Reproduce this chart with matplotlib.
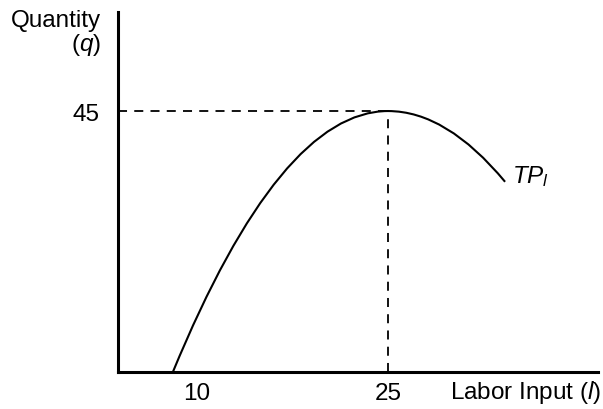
import matplotlib
matplotlib.use("Agg")
import matplotlib.pyplot as plt
from matplotlib.path import Path
from matplotlib.patches import PathPatch

plt.rcParams['font.family'] = ['Liberation Sans', 'DejaVu Sans']
plt.rcParams['mathtext.fontset'] = 'custom'
plt.rcParams['mathtext.rm'] = 'Liberation Sans'
plt.rcParams['mathtext.it'] = 'Liberation Sans:italic'

# Total product of labour: start, maximum and end of the curve
labor = [8.1, 25.0, 34.2]
output = [0.0, 45.0, 32.8]

x_ticks = [10, 25]
y_ticks = [45]

fig = plt.figure(figsize=(6.03, 4.10), dpi=100)
ax = fig.add_axes([0.1957, 0.0902, 0.796, 0.878])

# the curve is a hump: two quadratic pieces that meet flat at the top
(x0, x1, x2), (y0, y1, y2) = labor, output
verts = [(x0, y0), ((x0 + x1) / 2, y1), (x1, y1), ((x1 + x2) / 2, y1), (x2, y2)]
codes = [Path.MOVETO, Path.CURVE3, Path.CURVE3, Path.CURVE3, Path.CURVE3]
ax.add_patch(PathPatch(Path(verts, codes), facecolor='none', edgecolor='black', linewidth=1.5))

# dashed guides to the maximum
ax.plot([3.79, x1], [y1, y1], color='black', linewidth=1.3, dashes=(5, 4))
ax.plot([x1, x1], [0, y1], color='black', linewidth=1.3, dashes=(5, 4))

ax.set_xlim(3.79, 41.5)
ax.set_ylim(0, 62.07)

for side in ['top', 'right']:
    ax.spines[side].set_visible(False)
for side in ['left', 'bottom']:
    ax.spines[side].set_linewidth(2.2)

ax.set_xticks(x_ticks)
ax.set_xticklabels([str(t) for t in x_ticks])
ax.set_yticks(y_ticks)
ax.set_yticklabels([str(t) for t in y_ticks])
ax.tick_params(length=0, labelsize=17.5)
ax.tick_params(axis='x', pad=7)
ax.tick_params(axis='y', pad=13)

fig.text(512 / 603, 1 - 177 / 410, r'$\mathit{TP}_{\mathit{l}}$', fontsize=17.5, ha='left', va='center')

fig.text(101 / 603, 1 - 21 / 410, 'Quantity', fontsize=17.5, ha='right', va='center')
fig.text(101 / 603, 1 - 45 / 410, r'($\mathit{q}$)', fontsize=17.5, ha='right', va='center')

fig.text(601 / 603, 1 - 393 / 410, r'Labor Input ($\mathit{l}$)', fontsize=17.5, ha='right', va='center')

fig.savefig("out.png", dpi=100)
plt.close(fig)
